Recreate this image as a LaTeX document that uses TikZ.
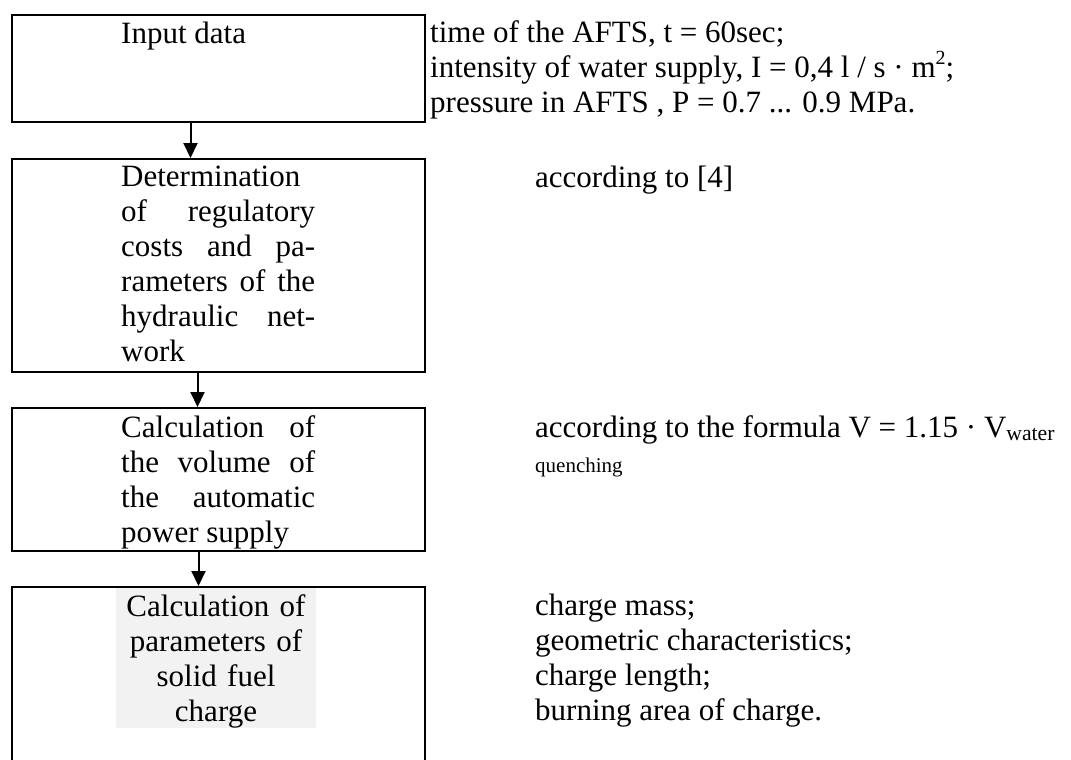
\documentclass[tikz,border=0pt]{standalone}
\usepackage{fontspec}
\setmainfont{Liberation Serif}
\usetikzlibrary{arrows.meta}
\hbadness=10000

\newcommand{\bigfont}{\fontsize{31}{35}\selectfont}
\newcommand{\firstrule}{\rule{0pt}{24pt}}
\newcommand{\uptwo}{\raisebox{0.42em}{\fontsize{20}{20}\selectfont 2}}

\tikzset{
    box/.style = {draw, line width=2pt, minimum width=413pt, inner sep=0pt},
    boxtext/.style = {anchor=north west, inner sep=0pt, text width=194pt, align=justify, font=\bigfont},
    note/.style = {anchor=north west, inner sep=0pt, align=left, font=\bigfont},
    flow/.style = {line width=2pt, -{Triangle[length=15pt,width=14pt]}}
}

\begin{document}
\begin{tikzpicture}[x=1pt, y=-1pt]
        \useasboundingbox (0, 0) rectangle (1071, 760);
        % the four steps
        \node[box, minimum height=107pt] (input) at (218.5, 68.5) {};
        \node[box, minimum height=213pt] (determ) at (218.5, 265.5) {};
        \node[box, minimum height=143pt] (volume) at (218.5, 479.5) {};
        \node[box, minimum height=203pt] (charge) at (218.5, 688.5) {};
        \node[boxtext] (inputtext) at (121, 19) {\firstrule Input data};
        \node[boxtext] (determtext) at (121, 162) {\firstrule Determination\linebreak of regulatory\linebreak costs and pa-\linebreak rameters of the\linebreak hydraulic net-\linebreak work};
        \node[boxtext] (volumetext) at (121, 413) {\firstrule Calculation of\linebreak the volume of\linebreak the automatic\linebreak power supply};
        \node[anchor=north, inner sep=0pt, text width=200pt, align=center, fill=black!5, font=\bigfont] (chargetext) at (216, 588) {\rule{0pt}{28pt}Calculation of\\ parameters of\\ solid fuel\\ charge};
        % notes on the right
        \node[note] (datanote) at (430, 18) {\firstrule time of the AFTS, t = 60sec;\\ intensity of water supply, I = 0,4 l / s · m\uptwo;\\ pressure in AFTS , P = 0.7 ... 0.9 MPa.};
        \node[note] (refnote) at (535, 163) {\firstrule according to [4]};
        \node[note] (formulanote) at (535, 413) {\firstrule according to the formula V = 1.15 · V\textsubscript{water}\\ {\fontsize{21}{25}\selectfont quenching}};
        \node[note] (chargenote) at (535, 591) {\firstrule charge mass;\\ geometric characteristics;\\ charge length;\\ burning area of charge.};
        % arrows
        \draw[flow] ([xshift=-28pt]input.south) -- ([xshift=-28pt]determ.north);
        \draw[flow] ([xshift=-21pt]determ.south) -- ([xshift=-21pt]volume.north);
        \draw[flow] ([xshift=-20pt]volume.south) -- ([xshift=-20pt]charge.north);
    \end{tikzpicture}
\end{document}
